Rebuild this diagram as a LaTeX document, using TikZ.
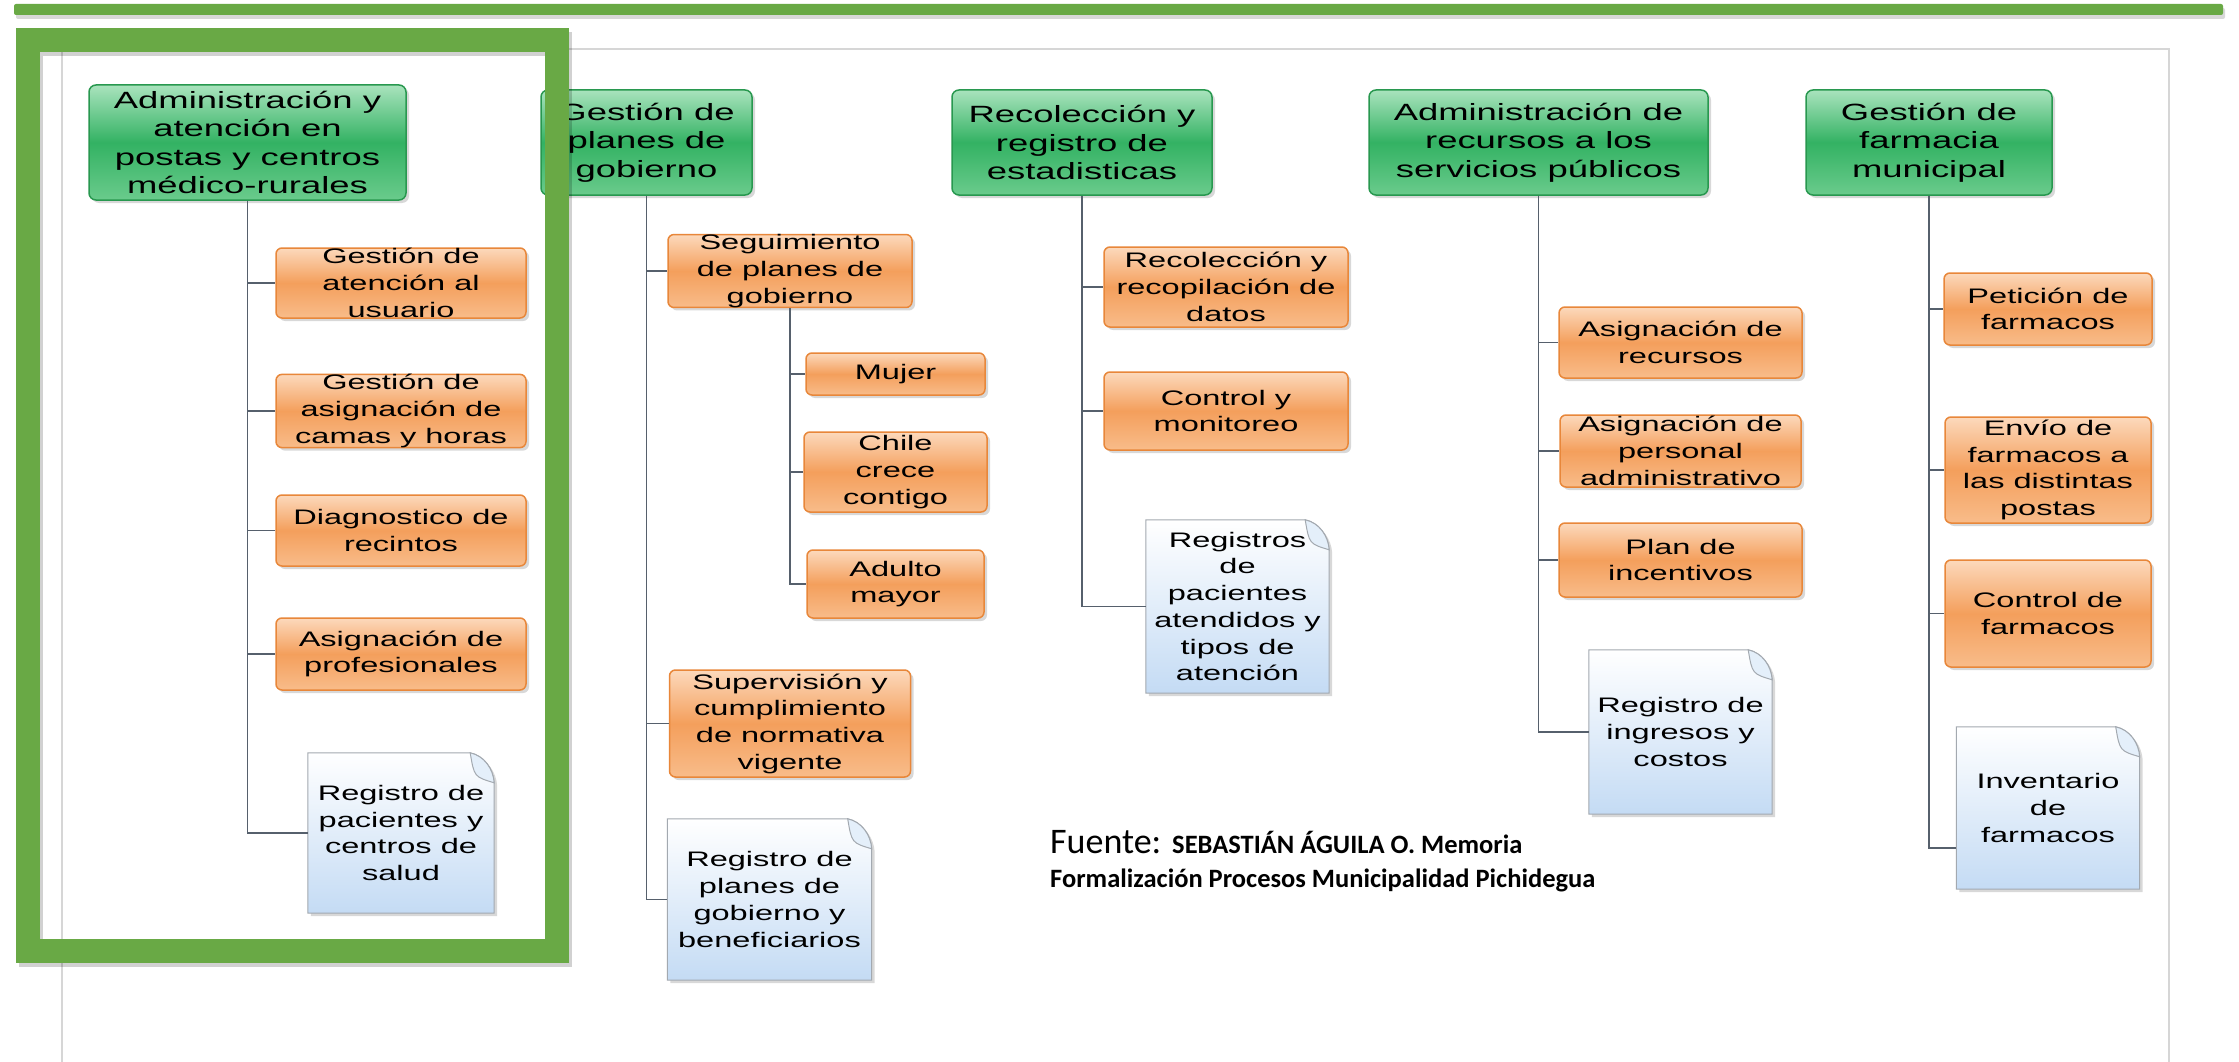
\documentclass[tikz,border=0pt]{standalone}
\usepackage{fontspec}
\usepackage{tikz}
\usetikzlibrary{shapes,positioning,shadows,backgrounds}
\newfontfamily\chartfont{Liberation Sans}[FakeStretch=1.55]
\newfontfamily\notefont{Carlito}
\definecolor{areatop}{HTML}{A9E3BD}
\definecolor{areamid}{HTML}{33B263}
\definecolor{areabot}{HTML}{6ACB8C}
\definecolor{arealine}{HTML}{28984F}
\definecolor{tasktop}{HTML}{FCD9BC}
\definecolor{taskmid}{HTML}{F49F5C}
\definecolor{taskbot}{HTML}{F8BC8A}
\definecolor{taskline}{HTML}{E8873A}
\definecolor{sheetblue}{HTML}{C4DBF4}
\definecolor{sheetline}{HTML}{A3A9B0}
\definecolor{wire}{HTML}{56606C}
\definecolor{hilite}{HTML}{69A945}
\definecolor{pagegray}{HTML}{D6D6D6}
\tikzstyle{area} = [rectangle, rounded corners=7pt, draw=arealine, line width=1.5pt, top color=areatop, bottom color=areabot, middle color=areamid, align=center, inner sep=0pt, text=black, font=\chartfont\fontsize{23.5pt}{28.3pt}\selectfont, drop shadow={shadow xshift=3pt, shadow yshift=-3pt, opacity=.3}]
\tikzstyle{task} = [rectangle, rounded corners=6pt, draw=taskline, line width=1.5pt, top color=tasktop, bottom color=taskbot, middle color=taskmid, align=center, inner sep=0pt, text=black, font=\chartfont\fontsize{21pt}{26.7pt}\selectfont, drop shadow={shadow xshift=3pt, shadow yshift=-3pt, opacity=.3}]
\tikzstyle{record} = [rectangle, align=center, inner sep=0pt, text=black, font=\chartfont\fontsize{21pt}{26.7pt}\selectfont]
\tikzstyle{sheet} = [draw=sheetline, line width=1pt, top color=white, bottom color=sheetblue, drop shadow={shadow xshift=3pt, shadow yshift=-3pt, opacity=.3}]
\tikzstyle{sheetfold} = [draw=sheetline, line width=1pt, fill=sheetblue!45]
\tikzstyle{tline} = [draw=wire, line width=1.6pt]
\newcommand{\drawsheet}[1]{%
  \path[sheet] (#1.north west) -- ([xshift=-24pt]#1.north east)
    .. controls ([xshift=-10pt,yshift=-3pt]#1.north east) and ([xshift=-1pt,yshift=-16pt]#1.north east) .. ([yshift=-30pt]#1.north east)
    -- (#1.south east) -- (#1.south west) -- cycle;
  \path[sheetfold] ([xshift=-24pt]#1.north east)
    .. controls ([xshift=-20pt,yshift=-24pt]#1.north east) .. ([yshift=-30pt]#1.north east)
    .. controls ([xshift=-1pt,yshift=-16pt]#1.north east) and ([xshift=-10pt,yshift=-3pt]#1.north east) .. ([xshift=-24pt]#1.north east) -- cycle;
}

\begin{document}
\begin{tikzpicture}[x=1pt, y=-1pt, on grid]

\useasboundingbox (0,0) rectangle (2239,1062);
\begin{pgfonlayer}{background}
\fill[white] (0,0) rectangle (2239,1062);
\draw[pagegray, line width=2pt] (62,1062) |- (2169,49) -- (2169,1062);
\end{pgfonlayer}
\fill[hilite, rounded corners=2pt, drop shadow={shadow xshift=2pt, shadow yshift=-4pt, opacity=.3}] (14,4) rectangle (2223,15);

% areas =============================
\node[area, minimum width=317pt, minimum height=115pt] (g1) at (247.5,142.5) {Administración y\\atención en\\postas y centros\\médico-rurales};
\node[area, minimum width=211pt, minimum height=105pt, right=399pt of g1] (g2) {Gestión de\\planes de\\gobierno};
\node[area, minimum width=260pt, minimum height=105pt, right=435.5pt of g2] (g3) {Recolección y\\registro de\\estadisticas};
\node[area, minimum width=339pt, minimum height=105pt, right=456.5pt of g3] (g4) {Administración de\\recursos a los\\servicios públicos};
\node[area, minimum width=246pt, minimum height=105pt, right=390.5pt of g4] (g5) {Gestión de\\farmacia\\municipal};

% postas
\node[task, minimum width=250pt, minimum height=70pt, below right=140.5pt and 153.5pt of g1] (c11) {Gestión de\\atención al\\usuario};
\node[task, minimum width=250pt, minimum height=72pt, below=128pt of c11] (c12) {Gestión de\\asignación de\\camas y horas};
\node[task, minimum width=250pt, minimum height=71pt, below=119.5pt of c12] (c13) {Diagnostico de\\recintos};
\node[task, minimum width=250pt, minimum height=72pt, below=123.5pt of c13] (c14) {Asignación de\\profesionales};
\node[record, minimum width=186pt, minimum height=160pt, below=179pt of c14] (d1) {Registro de\\pacientes y\\centros de\\salud};

% planes de gobierno
\node[task, minimum width=244pt, minimum height=72pt, below right=128.5pt and 143.5pt of g2] (c21) {Seguimiento\\de planes de\\gobierno};
\node[task, minimum width=179pt, minimum height=42pt, below right=103pt and 105.5pt of c21] (c22) {Mujer};
\node[task, minimum width=183pt, minimum height=80pt, below=98pt of c22] (c23) {Chile\\crece\\contigo};
\node[task, minimum width=177pt, minimum height=68pt, below=112pt of c23] (c24) {Adulto\\mayor};
\node[task, minimum width=241pt, minimum height=107pt, below=452.5pt of c21] (c25) {Supervisión y\\cumplimiento\\de normativa\\vigente};
\node[record, minimum width=204pt, minimum height=161pt, below left=176pt and 20.5pt of c25] (d2) {Registro de\\planes de\\gobierno y\\beneficiarios};

% estadisticas
\node[task, minimum width=244pt, minimum height=80pt, below right=144.5pt and 144pt of g3] (c31) {Recolección y\\recopilación de\\datos};
\node[task, minimum width=244pt, minimum height=78pt, below=124pt of c31] (c32) {Control y\\monitoreo};
\node[record, minimum width=183pt, minimum height=173pt, below right=195.5pt and 11.5pt of c32] (d3) {Registros\\de\\pacientes\\atendidos y\\tipos de\\atención};

% recursos
\node[task, minimum width=243pt, minimum height=71pt, below right=200pt and 142pt of g4] (c41) {Asignación de\\recursos};
\node[task, minimum width=241pt, minimum height=72pt, below=108.5pt of c41] (c42) {Asignación de\\personal\\administrativo};
\node[task, minimum width=243pt, minimum height=74pt, below=109pt of c42] (c43) {Plan de\\incentivos};
\node[record, minimum width=183pt, minimum height=164pt, below=172pt of c43] (d4) {Registro de\\ingresos y\\costos};

% farmacia
\node[task, minimum width=208pt, minimum height=72pt, below right=166.5pt and 119pt of g5] (c51) {Petición de\\farmacos};
\node[task, minimum width=206pt, minimum height=106pt, below=161pt of c51] (c52) {Envío de\\farmacos a\\las distintas\\postas};
\node[task, minimum width=206pt, minimum height=107pt, below=143.5pt of c52] (c53) {Control de\\farmacos};
\node[record, minimum width=183pt, minimum height=162pt, below=194.5pt of c53] (d5) {Inventario\\de\\farmacos};

\begin{pgfonlayer}{background}
\foreach \d in {d1,d2,d3,d4,d5} {\drawsheet{\d}}
\end{pgfonlayer}

% source
\node[anchor=base west, inner sep=0pt] (src1) at (1050,853) {\notefont\fontsize{36pt}{40pt}\selectfont Fuente: {\bfseries\fontsize{26.5pt}{30pt}\selectfont SEBASTIÁN ÁGUILA O. Memoria}};
\node[anchor=base west, inner sep=0pt] (src2) at (1050,887) {\notefont\bfseries\fontsize{26.5pt}{30pt}\selectfont Formalización Procesos Municipalidad Pichidegua};

%edges
\path[tline] (g1) |- (c11);
\path[tline] (g1) |- (c12);
\path[tline] (g1) |- (c13);
\path[tline] (g1) |- (c14);
\path[tline] (g1) |- (d1);

\path[tline] (g2) |- (c21);
\path[tline] (g2) |- (c25);
\path[tline] (g2) |- (d2);
\path[tline] (c21) |- (c22);
\path[tline] (c21) |- (c23);
\path[tline] (c21) |- (c24);

\path[tline] (g3) |- (c31);
\path[tline] (g3) |- (c32);
\path[tline] (g3) |- (d3);

\path[tline] (g4) |- (c41);
\path[tline] (g4) |- (c42);
\path[tline] (g4) |- (c43);
\path[tline] (g4) |- (d4);

\path[tline] (g5) |- (c51);
\path[tline] (g5) |- (c52);
\path[tline] (g5) |- (c53);
\path[tline] (g5.south) |- ([yshift=-40pt]d5.west);

% highlight
\draw[black, opacity=.18, line width=24pt] (31,44) rectangle (560,955);
\draw[hilite, line width=24pt] (28,40) rectangle (557,951);

\end{tikzpicture}
\end{document}
